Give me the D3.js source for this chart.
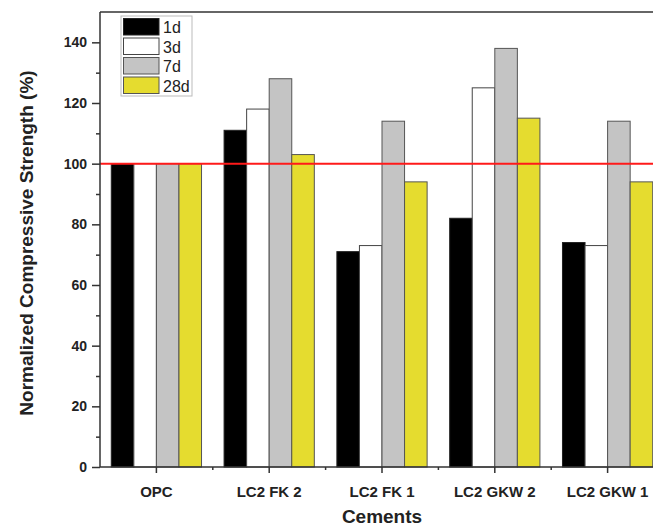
<!DOCTYPE html>
<html><head><meta charset="utf-8">
<script src="https://cdn.jsdelivr.net/npm/d3@7"></script>
<style>html,body{margin:0;padding:0;background:#fff;overflow:hidden}svg{display:block;font-family:"Liberation Sans",Arial,sans-serif}</style>
</head><body><div id="chart"></div>
<script>
const categories = ["OPC","LC2 FK 2","LC2 FK 1","LC2 GKW 2","LC2 GKW 1"];
const seriesNames = ["1d","3d","7d","28d"];
const v1d  = [100,111,71,82,74];
const v3d  = [100,118,73,125,73];
const v7d  = [100,128,114,138,114];
const v28d = [100,103,94,115,94];
const seriesValues = [v1d,v3d,v7d,v28d];
const yTicks = [0,20,40,60,80,100,120,140];
const yMinorTicks = [10,30,50,70,90,110,130];
const referenceValue = 100;
const fills = ["#000000","#ffffff","#c4c4c4","#e5dc2f"];
const strokes = ["#222","#444","#555","#555"];

const W=653,H=527;
const m={left:100,top:12,right:-11,bottom:60};
const iw=W-m.left-m.right, ih=H-m.top-m.bottom;
const svg=d3.select("#chart").append("svg").attr("width",W).attr("height",H);
const g=svg.append("g").attr("transform",`translate(${m.left},${m.top})`);

const x0=d3.scaleBand().domain(categories).range([0,iw]).paddingInner(0.2).paddingOuter(0.1);
const x1=d3.scaleBand().domain(seriesNames).range([0,x0.bandwidth()]);
const y=d3.scaleLinear().domain([0,150]).range([ih,0]);

// bars
seriesNames.forEach((s,si)=>{
  g.selectAll(null).data(categories).enter().append("rect")
    .attr("x",c=>x0(c)+x1(s)).attr("y",(c,i)=>y(seriesValues[si][i]))
    .attr("width",x1.bandwidth()).attr("height",(c,i)=>ih-y(seriesValues[si][i]))
    .attr("fill",fills[si]).attr("stroke",strokes[si]).attr("stroke-width",1);
});

// reference line
g.append("line").attr("x1",0).attr("x2",iw).attr("y1",y(referenceValue)).attr("y2",y(referenceValue))
  .attr("stroke","#ff1a1a").attr("stroke-width",2);

// axes
const yAxis=g.append("g").call(d3.axisLeft(y).tickValues(yTicks).tickSize(8).tickPadding(5));
g.append("g").call(d3.axisLeft(y).tickValues(yMinorTicks).tickSize(4).tickFormat(""));
const xAxis=g.append("g").attr("transform",`translate(0,${ih})`)
  .call(d3.axisBottom(x0).tickSize(6).tickPadding(13));
const step=x0.step();
g.append("g").attr("transform",`translate(0,${ih})`).selectAll("line")
  .data(categories.slice(1)).enter().append("line")
  .attr("x1",c=>x0(c)+x0.bandwidth()/2-step/2).attr("x2",c=>x0(c)+x0.bandwidth()/2-step/2)
  .attr("y1",0).attr("y2",3).attr("stroke","#333").attr("stroke-width",1.5);
svg.selectAll(".tick line").attr("stroke","#333").attr("stroke-width",1.5);
yAxis.selectAll("text").attr("font-size",14).attr("font-weight","bold").attr("fill","#222");
xAxis.selectAll("text").attr("font-size",15).attr("font-weight","bold").attr("fill","#222");
g.selectAll("path.domain").remove();
g.append("line").attr("x1",0).attr("x2",0).attr("y1",0).attr("y2",ih).attr("stroke","#333").attr("stroke-width",1.5);
g.append("line").attr("x1",0).attr("x2",iw).attr("y1",ih).attr("y2",ih).attr("stroke","#333").attr("stroke-width",1.5);
g.append("line").attr("x1",0).attr("x2",iw).attr("y1",0).attr("y2",0).attr("stroke","#333").attr("stroke-width",1.5);

// titles
svg.append("text").attr("transform",`translate(33,243) rotate(-90)`)
  .attr("text-anchor","middle").attr("font-size",19).attr("font-weight","bold").attr("fill","#222")
  .text("Normalized Compressive Strength (%)");
svg.append("text").attr("x",382).attr("y",523).attr("text-anchor","middle")
  .attr("font-size",19).attr("font-weight","bold").attr("fill","#222").text("Cements");

// legend
const lg=svg.append("g").attr("transform","translate(121,16)");
lg.append("rect").attr("width",71).attr("height",80).attr("fill","#fff").attr("stroke","#bbb").attr("stroke-width",1);
seriesNames.forEach((s,i)=>{
  lg.append("rect").attr("x",2.5).attr("y",2.5+i*19.5).attr("width",35.5).attr("height",16.5)
    .attr("fill",fills[i]).attr("stroke",strokes[i]).attr("stroke-width",1);
  lg.append("text").attr("x",42).attr("y",17+i*19.5).attr("font-size",16).attr("fill","#222").text(s);
});
</script></body></html>
